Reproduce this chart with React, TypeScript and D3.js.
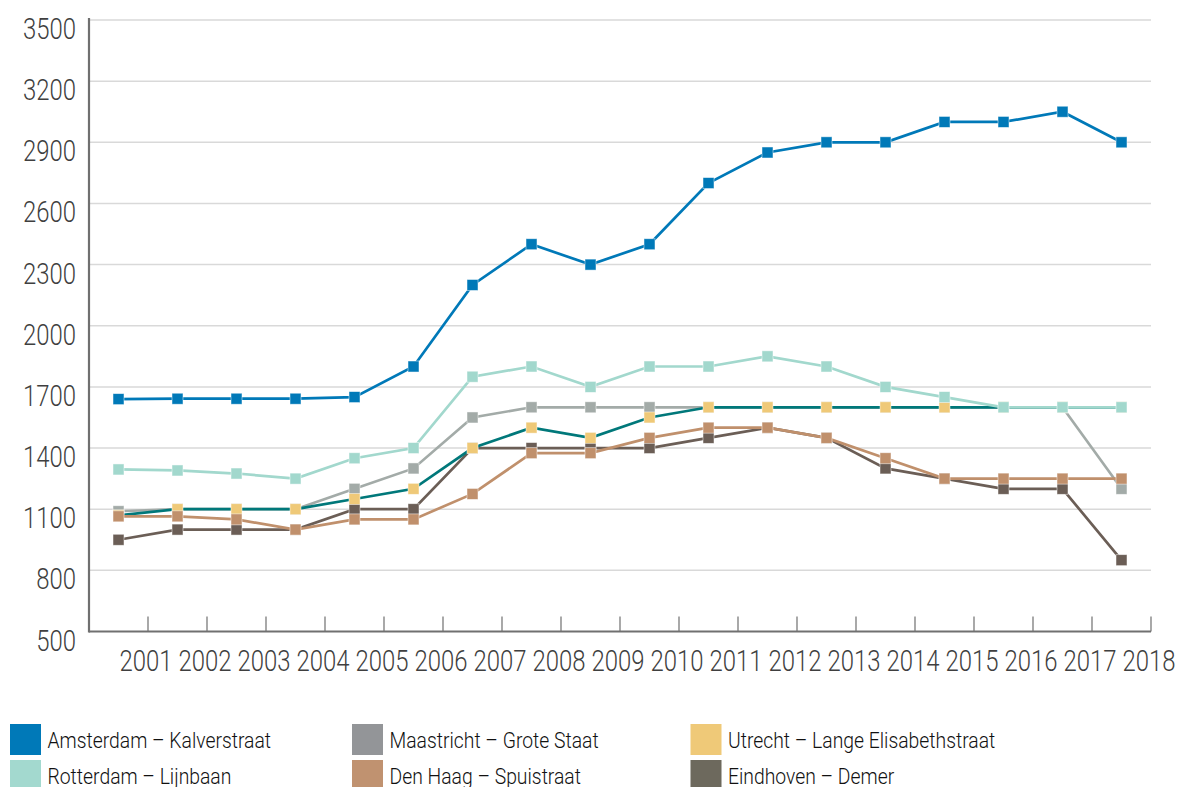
import React from 'react'
import * as d3 from 'd3'

const years = ['2001', '2002', '2003', '2004', '2005', '2006', '2007', '2008', '2009', '2010', '2011', '2012', '2013', '2014', '2015', '2016', '2017', '2018']
const yTicks = [500, 800, 1100, 1400, 1700, 2000, 2300, 2600, 2900, 3200, 3500]

const amsterdam = [1640, 1642, 1642, 1642, 1650, 1800, 2200, 2400, 2300, 2400, 2700, 2850, 2900, 2900, 3000, 3000, 3050, 2900]
const rotterdam = [1295, 1290, 1275, 1250, 1350, 1400, 1750, 1800, 1700, 1800, 1800, 1850, 1800, 1700, 1650, 1600, 1600, 1600]
const maastricht = [1090, 1100, 1100, 1100, 1200, 1300, 1550, 1600, 1600, 1600, 1600, 1600, 1600, 1600, 1600, 1600, 1600, 1200]
const utrecht = [1070, 1100, 1100, 1100, 1150, 1200, 1400, 1500, 1450, 1550, 1600, 1600, 1600, 1600, 1600, 1600, 1600, 1600]
const denHaag = [1065, 1065, 1050, 1000, 1050, 1050, 1175, 1375, 1375, 1450, 1500, 1500, 1450, 1350, 1250, 1250, 1250, 1250]
const eindhoven = [950, 1000, 1000, 1000, 1100, 1100, 1400, 1400, 1400, 1400, 1450, 1500, 1450, 1300, 1250, 1200, 1200, 850]

// draw order: bottom first
const series = [
  { name: 'Eindhoven – Demer', values: eindhoven, line: '#6b5e56', marker: '#6b5e56', swatch: '#6d695d' },
  { name: 'Maastricht – Grote Staat', values: maastricht, line: '#a3aba8', marker: '#a3aba8', swatch: '#939598' },
  { name: 'Utrecht – Lange Elisabethstraat', values: utrecht, line: '#00787a', marker: '#efc978', swatch: '#efc978' },
  { name: 'Den Haag – Spuistraat', values: denHaag, line: '#c0906c', marker: '#c0906c', swatch: '#c09270' },
  { name: 'Rotterdam – Lijnbaan', values: rotterdam, line: '#a2d8cd', marker: '#a2d8cd', swatch: '#a3d9cf' },
  { name: 'Amsterdam – Kalverstraat', values: amsterdam, line: '#0079b8', marker: '#0079b8', swatch: '#0079b8' },
]

const legendOrder = [
  'Amsterdam – Kalverstraat', 'Maastricht – Grote Staat', 'Utrecht – Lange Elisabethstraat',
  'Rotterdam – Lijnbaan', 'Den Haag – Spuistraat', 'Eindhoven – Demer',
]

const font = "Roboto, 'Noto Sans', sans-serif"

// narrow text: no condensed face installed, so squeeze horizontally
function NText(props: { x: number; y: number; k: number; size: number; weight?: number; anchor?: string; fill: string; children: React.ReactNode }) {
  return (
    <text
      transform={`translate(${props.x},${props.y}) scale(${props.k},1)`}
      textAnchor={props.anchor ?? 'start'}
      fontFamily={font}
      fontSize={props.size}
      fontWeight={props.weight ?? 400}
      fill={props.fill}
    >
      {props.children}
    </text>
  )
}

export default function App() {
  const width = 1177
  const height = 787
  const left = 89
  const right = 1151
  const top = 20
  const bottom = 631.5

  const x = d3.scaleBand<string>().domain(years).range([left, right])
  const y = d3.scaleLinear().domain([500, 3500]).range([bottom, top])
  const cx = (d: string) => (x(d) ?? 0) + x.bandwidth() / 2

  const line = d3.line<number>()
    .x((_, i) => cx(years[i]))
    .y((d) => y(d))

  const ms = 11

  return (
    <div style={{ position: 'absolute', left: 0, top: 0 }}>
      <svg width={width} height={height} style={{ display: 'block', background: '#fff' }}>
        {/* grid */}
        {yTicks.slice(1).map((t) => (
          <line key={t} x1={left} x2={right} y1={y(t)} y2={y(t)} stroke="#d9d9d9" strokeWidth={1.5} />
        ))}
        {/* y labels */}
        {yTicks.map((t) => (
          <NText key={t} x={76} y={y(t) + 19} k={0.81} size={29.5} weight={300} anchor="end" fill="#3f3f3f">
            {t}
          </NText>
        ))}
        {/* x ticks at band boundaries */}
        {years.map((d) => {
          const bx = (x(d) ?? 0) + x.bandwidth()
          return <line key={d} x1={bx} x2={bx} y1={bottom - 15} y2={bottom} stroke="#7a7a7a" strokeWidth={1.3} />
        })}
        {years.map((d) => {
          const bx = (x(d) ?? 0) + x.bandwidth()
          return (
            <NText key={d} x={bx - 2} y={671} k={0.81} size={29.5} weight={300} anchor="middle" fill="#3f3f3f">
              {d}
            </NText>
          )
        })}
        {/* axes */}
        <line x1={left} x2={left} y1={top - 2} y2={bottom + 1} stroke="#707070" strokeWidth={2.2} />
        <line x1={left} x2={right} y1={bottom} y2={bottom} stroke="#707070" strokeWidth={2.2} />
        {/* series */}
        {series.map((s) => (
          <g key={s.name}>
            <path d={line(s.values) ?? ''} fill="none" stroke={s.line} strokeWidth={2.7} />
            {s.values.map((v, i) => (
              <rect
                key={i}
                x={cx(years[i]) - ms / 2}
                y={y(v) - ms / 2}
                width={ms}
                height={ms}
                fill={s.marker}
                stroke="#ffffff"
                strokeOpacity={0.6}
                strokeWidth={0.8}
              />
            ))}
          </g>
        ))}
        {/* legend */}
        {legendOrder.map((name, i) => {
          const s = series.find((d) => d.name === name)!
          const col = i % 3
          const row = Math.floor(i / 3)
          const lx = [10, 352, 690.5][col]
          const ly = 724 + row * 36
          return (
            <g key={name}>
              <rect x={lx} y={ly} width={31} height={31} fill={s.swatch} />
              <NText x={lx + 37.5} y={ly + 24} k={0.86} size={22.5} weight={300} fill="#111">
                {name}
              </NText>
            </g>
          )
        })}
      </svg>
    </div>
  )
}
